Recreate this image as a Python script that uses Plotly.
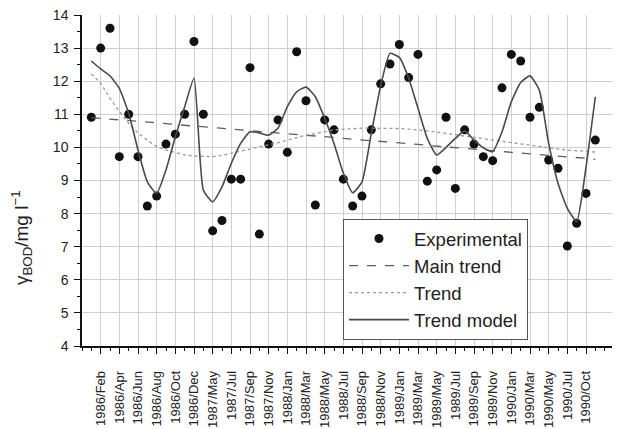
import plotly.graph_objects as go

categories = [
    "1986/Jan", "1986/Feb", "1986/Mar", "1986/Apr", "1986/May", "1986/Jun", "1986/Jul",
    "1986/Aug", "1986/Sep", "1986/Oct", "1986/Nov", "1986/Dec", "1987/Apr", "1987/May",
    "1987/Jun", "1987/Jul", "1987/Aug", "1987/Sep", "1987/Oct", "1987/Nov", "1987/Dec",
    "1988/Jan", "1988/Feb", "1988/Mar", "1988/Apr", "1988/May", "1988/Jun", "1988/Jul",
    "1988/Aug", "1988/Sep", "1988/Oct", "1988/Nov", "1988/Dec", "1989/Jan", "1989/Feb",
    "1989/Mar", "1989/Apr", "1989/May", "1989/Jun", "1989/Jul", "1989/Aug", "1989/Sep",
    "1989/Oct", "1989/Nov", "1989/Dec", "1990/Jan", "1990/Feb", "1990/Mar", "1990/Apr",
    "1990/May", "1990/Jun", "1990/Jul", "1990/Aug", "1990/Oct", "1990/Nov",
]

tick_labels = [
    "1986/Feb", "1986/Apr", "1986/Jun", "1986/Aug", "1986/Oct", "1986/Dec", "1987/May",
    "1987/Jul", "1987/Sep", "1987/Nov", "1988/Jan", "1988/Mar", "1988/May", "1988/Jul",
    "1988/Sep", "1988/Nov", "1989/Jan", "1989/Mar", "1989/May", "1989/Jul", "1989/Sep",
    "1989/Nov", "1990/Jan", "1990/Mar", "1990/May", "1990/Jul", "1990/Oct",
]

experimental = [
    10.91, 13.0, 13.6, 9.72, 11.0, 9.72, 8.23, 8.53, 10.10, 10.40, 11.0, 13.2, 11.0, 7.48,
    7.79, 9.04, 9.04, 12.41, 7.38, 10.10, 10.83, 9.85, 12.89, 11.41, 8.26, 10.83, 10.53,
    9.04, 8.23, 8.53, 10.53, 11.92, 12.52, 13.11, 12.11, 12.81, 8.98, 9.32, 10.91, 8.76,
    10.53, 10.10, 9.72, 9.60, 11.80, 12.81, 12.61, 10.91, 11.21, 9.62, 9.37, 7.02, 7.71,
    8.61, 10.22,
]

main_trend = [
    10.90, 10.88, 10.86, 10.83, 10.81, 10.79, 10.76, 10.74, 10.72, 10.69, 10.67, 10.65,
    10.62, 10.60, 10.58, 10.55, 10.53, 10.51, 10.48, 10.46, 10.44, 10.41, 10.39, 10.37,
    10.34, 10.32, 10.30, 10.27, 10.25, 10.23, 10.20, 10.18, 10.16, 10.13, 10.11, 10.09,
    10.06, 10.04, 10.02, 9.99, 9.97, 9.95, 9.92, 9.90, 9.88, 9.85, 9.83, 9.81, 9.78,
    9.76, 9.74, 9.71, 9.69, 9.67, 9.64,
]

trend = [
    12.22, 11.94, 11.48, 11.08, 10.73, 10.43, 10.22, 10.02, 9.92, 9.84, 9.77, 9.74, 9.72,
    9.72, 9.76, 9.82, 9.87, 9.95, 10.02, 10.07, 10.14, 10.22, 10.30, 10.37, 10.42, 10.47,
    10.53, 10.55, 10.57, 10.58, 10.58, 10.58, 10.58, 10.57, 10.55, 10.53, 10.50, 10.46,
    10.42, 10.38, 10.34, 10.30, 10.25, 10.21, 10.17, 10.13, 10.09, 10.05, 10.02, 9.98,
    9.95, 9.92, 9.90, 9.88, 9.86,
]

trend_model = [
    12.61, 12.37, 12.16, 11.78, 11.03, 9.92, 8.96, 8.61, 9.32, 10.32, 11.23, 12.09, 8.71,
    8.36, 8.81, 9.52, 10.12, 10.47, 10.44, 10.37, 10.58, 11.23, 11.68, 11.82, 11.53, 10.88,
    10.12, 9.22, 8.63, 8.96, 10.43, 11.86, 12.84, 12.72, 12.09, 11.18, 10.27, 9.77, 10.0,
    10.27, 10.5, 10.22, 9.99, 9.87, 10.47, 11.38, 11.96, 12.16, 11.73, 10.12, 8.92, 8.16,
    7.76, 9.4, 11.53,
]

pos = list(range(len(categories)))
tick_pos = [categories.index(t) for t in tick_labels]

FONT = "Liberation Sans, Arial, sans-serif"

fig = go.Figure()
fig.add_trace(go.Scatter(x=pos, y=experimental, mode="markers", name="Experimental",
                         marker=dict(color="#111111", size=9), legendgroup="a"))
fig.add_trace(go.Scatter(x=pos, y=main_trend, mode="lines", name="Main trend",
                         line=dict(color="#5e5e5e", width=1.3, dash="dash"), legendgroup="b"))
fig.add_trace(go.Scatter(x=pos, y=trend, mode="lines", name="Trend",
                         line=dict(color="#9a9a9a", width=1.3, dash="dot"), legendgroup="c"))
fig.add_trace(go.Scatter(x=pos, y=trend_model, mode="lines", name="Trend model",
                         line=dict(color="#4a4a4a", width=1.6, shape="spline", smoothing=0.5),
                         legendgroup="d"))

fig.update_layout(
    width=612, height=421,
    margin=dict(l=74, r=6, t=7, b=83, autoexpand=False),
    paper_bgcolor="white", plot_bgcolor="white",
    font=dict(family=FONT, color="#222222"),
    showlegend=True,
    legend=dict(x=0.4906, y=0.3837, xanchor="left", yanchor="top",
                bgcolor="white", bordercolor="#555555", borderwidth=1,
                font=dict(size=18.5, color="#222222"), tracegroupgap=0,
                itemwidth=60),
    xaxis=dict(
        range=[-1, 56], showgrid=True, gridcolor="#cfcfcf", gridwidth=1,
        tickmode="array", tickvals=tick_pos, ticktext=tick_labels,
        tickangle=-90, tickfont=dict(size=13, color="#222222"),
        ticks="outside", ticklen=6, tickcolor="#111111", tickwidth=1,
        minor=dict(tickmode="linear", tick0=0, dtick=1, ticks="outside", ticklen=3,
                   tickcolor="#111111", showgrid=False),
        showline=True, linecolor="#111111", linewidth=1.5, zeroline=False,
        ticklabelstandoff=12, automargin=False, ticklabeloverflow="allow",
    ),
    yaxis=dict(
        range=[4, 14], showgrid=True, gridcolor="#cfcfcf", gridwidth=1,
        tickmode="linear", tick0=4, dtick=1,
        tickfont=dict(size=14, color="#222222"),
        ticks="outside", ticklen=6, tickcolor="#111111", tickwidth=1,
        minor=dict(tickmode="linear", tick0=4.5, dtick=1, ticks="outside", ticklen=3,
                   tickcolor="#111111", showgrid=False),
        showline=True, linecolor="#111111", linewidth=1.5, zeroline=False,
        ticklabelstandoff=3, automargin=False, ticklabeloverflow="allow",
    ),
)

fig.add_annotation(text="γ<sub>BOD</sub>/mg l<sup>−1</sup>", xref="paper", yref="paper",
                   x=-0.1147, y=0.329, xanchor="center", yanchor="middle",
                   textangle=-90, showarrow=False,
                   font=dict(size=19, color="#222222", family=FONT))

fig.write_html("out.html")
